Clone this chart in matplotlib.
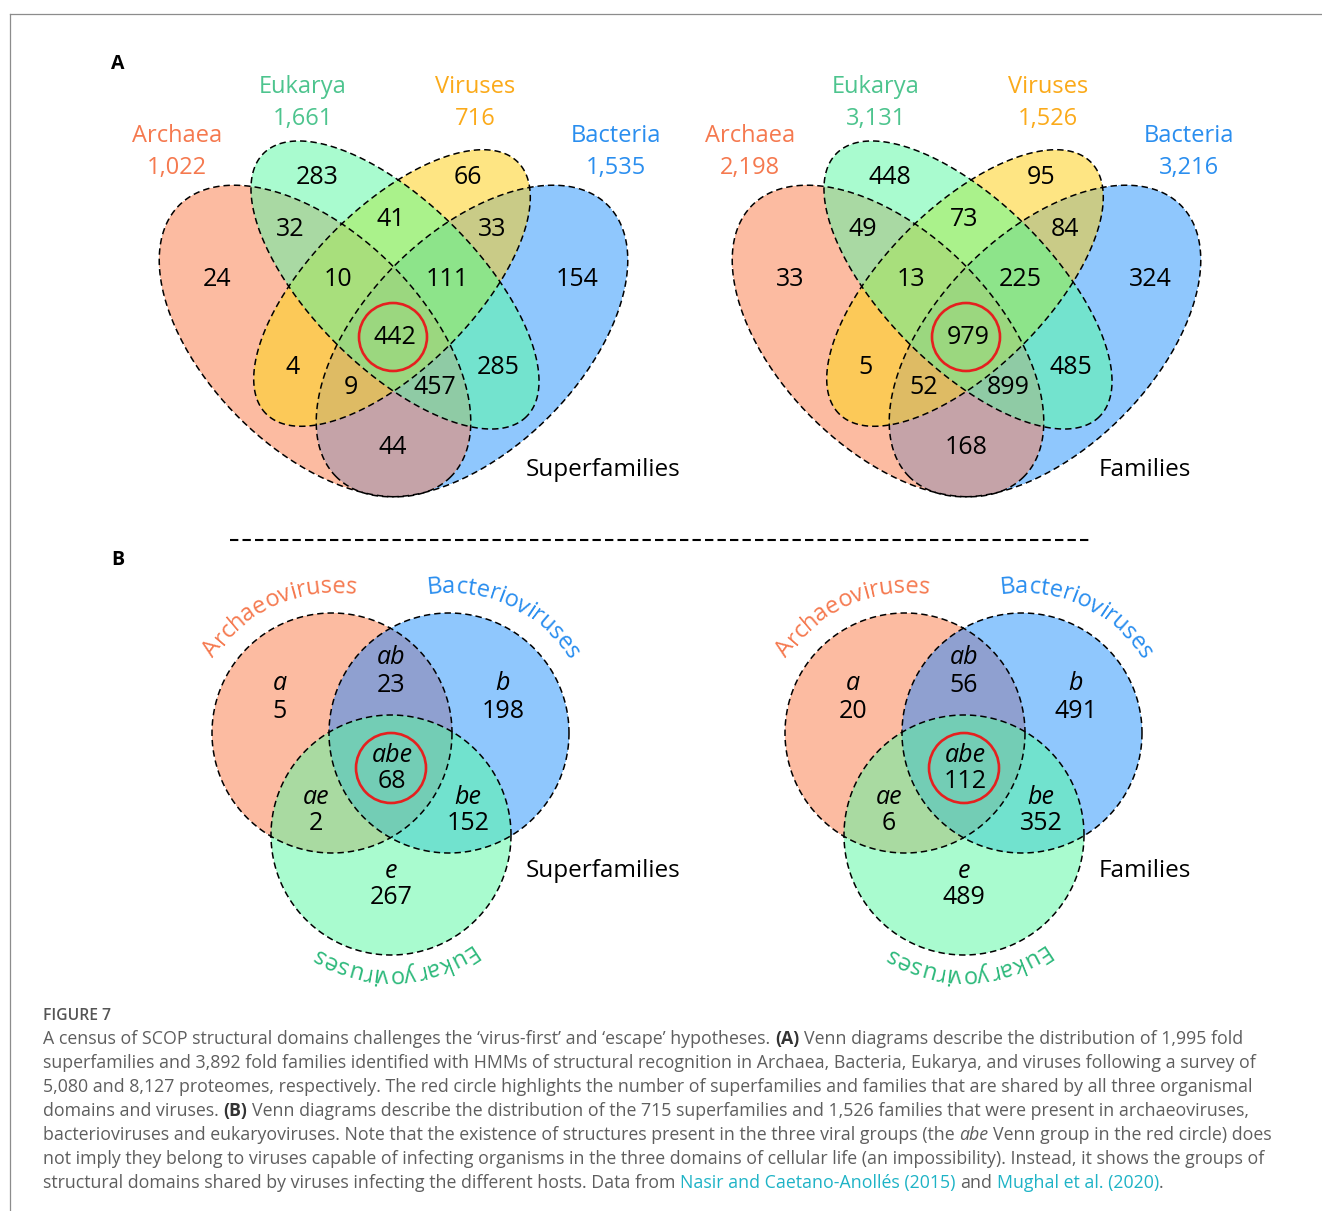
import numpy as np
import matplotlib
matplotlib.use("Agg")
import matplotlib.pyplot as plt
from matplotlib import font_manager, ft2font
from matplotlib.colors import to_rgba
from matplotlib.patches import Circle, Polygon
from matplotlib.path import Path

plt.rcParams["font.family"] = ["Open Sans", "DejaVu Sans"]

# --- data ------------------------------------------------------------------
DOMAIN_KEYS = ["A", "E", "V", "B"]
DOMAIN_NAMES = ["Archaea", "Eukarya", "Viruses", "Bacteria"]
REGIONS_4 = ["A", "E", "V", "B", "AE", "EV", "VB", "AV", "EB", "AB",
             "AEV", "EVB", "AVB", "AEB", "AEVB"]
SUPERFAMILY_COUNTS = [24, 283, 66, 154, 32, 41, 33, 4, 285, 44, 10, 111, 9, 457, 442]
FAMILY_COUNTS = [33, 448, 95, 324, 49, 73, 84, 5, 485, 168, 13, 225, 52, 899, 979]
SUPERFAMILY_TOTALS = [1022, 1661, 716, 1535]
FAMILY_TOTALS = [2198, 3131, 1526, 3216]

VIRUS_KEYS = ["a", "b", "e"]
VIRUS_NAMES = ["Archaeoviruses", "Bacterioviruses", "Eukaryoviruses"]
REGIONS_3 = ["a", "b", "e", "ab", "ae", "be", "abe"]
VIRUS_SF_COUNTS = [5, 198, 267, 23, 2, 152, 68]
VIRUS_FAM_COUNTS = [20, 491, 489, 56, 6, 352, 112]

PANEL_TITLES = ["Superfamilies", "Families"]

# --- layout (pixels, y down) ----------------------------------------------
W, H = 1322, 1211
A_CENTRES = [393, 966]
B_CENTRES = [391, 964]

# ellipse: dx from centre line, cy, semi-major, semi-minor, angle
ELLIPSES = {"A": (-78, 341, 192, 108, 45), "E": (2, 285, 186, 83, 45),
            "V": (-1, 288, 178, 81, 135), "B": (79, 341, 192, 108, 135)}
CIRCLES = {"a": (-59, 733), "b": (58, 733), "e": (0, 835)}
CIRCLE_R = 120

REGION_XY_4 = {"A": (-176, 280), "E": (-76, 177), "V": (75, 177), "B": (184, 280),
               "AE": (-103, 230), "EV": (-2, 219), "VB": (99, 230),
               "AV": (-100, 367), "EB": (105, 367), "AB": (0, 448),
               "AEV": (-55, 280), "EVB": (54, 280), "AVB": (-42, 388),
               "AEB": (42, 388), "AEVB": (2, 337)}
TITLE_XY_4 = {"A": (-216, 136), "E": (-90, 87), "V": (82, 87), "B": (223, 136)}
REGION_XY_3 = {"a": (-111, 684), "b": (112, 684), "e": (0, 871), "ab": (0, 658),
               "ae": (-75, 797), "be": (77, 797), "abe": (1, 755)}
ARC_LABELS = {"a": (114, 140), "b": (65, 140), "e": (271.5, 134)}

FILL_4 = {"A": "#FCBBA1", "E": "#A9FBCF", "V": "#FEE583", "B": "#8FC7FD",
          "AE": "#A9D9A3", "EV": "#AAF28B", "VB": "#C9CB87", "AV": "#FCC958",
          "EB": "#73E3CE", "AB": "#C5A3A8", "AEV": "#A8DF7C", "EVB": "#8DE48A",
          "AVB": "#DEBB64", "AEB": "#8FCBA5", "AEVB": "#9BD77F"}
FILL_3 = {"a": "#FCBBA1", "b": "#8FC7FD", "e": "#A9FBCF", "ab": "#8FA0D0",
          "ae": "#A9DAA1", "be": "#71E2CE", "abe": "#73CDB5"}
TITLE_COLORS = {"A": "#F5794F", "E": "#4DC48E", "V": "#FBAA1A", "B": "#2A8EEF",
                "a": "#F5794F", "b": "#2A8EEF", "e": "#2DB97B"}
RED = "#E5201F"
DASH = (0, (4.2, 2.6))

fig = plt.figure(figsize=(W / 100, H / 100), dpi=100)
ax = fig.add_axes([0, 0, 1, 1])
ax.axis("off")
renderer = fig.canvas.get_renderer()


def ellipse_xy(cx, cy, a, b, angle, n=500):
    t = np.linspace(0, 2 * np.pi, n, endpoint=False)
    th = np.deg2rad(angle)
    u, v = a * np.cos(t), b * np.sin(t)
    return np.column_stack([cx + u * np.cos(th) - v * np.sin(th),
                            cy + u * np.sin(th) + v * np.cos(th)])


def paint(outlines, keys, colors, box):
    x0, x1, y0, y1 = box
    gx, gy = np.meshgrid(np.arange(x0, x1) + 0.5, np.arange(y0, y1) + 0.5)
    pts = np.column_stack([gx.ravel(), gy.ravel()])
    code = np.zeros(gx.size, dtype=int)
    for i, xy in enumerate(outlines):
        code |= Path(xy).contains_points(pts).astype(int) << i
    lut = np.zeros((2 ** len(keys), 4))
    for c in range(1, 2 ** len(keys)):
        key = "".join(k for i, k in enumerate(keys) if c >> i & 1)
        lut[c] = to_rgba(colors[key])
    img = lut[code].reshape(gx.shape + (4,))
    ax.imshow(img, extent=(x0, x1, y1, y0), origin="upper",
              interpolation="nearest", zorder=1)


def text_width(s, **kw):
    t = ax.text(0, 0, s, **kw)
    w = t.get_window_extent(renderer).width
    t.remove()
    return w


def glyph_metrics(s, size):
    """Pen position, left bearing and ink width (pixels) of every character."""
    path = font_manager.findfont(font_manager.FontProperties(family="Open Sans"))
    font = ft2font.FT2Font(path, hinting_factor=1)
    font.set_size(size, 100)
    try:
        flags = ft2font.LoadFlags.NO_HINTING
        kern_mode = ft2font.Kerning.DEFAULT
    except AttributeError:
        flags = ft2font.LOAD_NO_HINTING
        kern_mode = ft2font.KERNING_DEFAULT
    out, pen, prev = [], 0.0, None
    for ch in s:
        idx = font.get_char_index(ord(ch))
        if prev is not None:
            pen += font.get_kerning(prev, idx, kern_mode) / 64
        g = font.load_char(ord(ch), flags=flags)
        out.append((pen, g.horiBearingX / 64, g.width / 64))
        pen += g.linearHoriAdvance / 65536
        prev = idx
    return out, pen


def arc_text(s, cx, cy, radius, mid_deg, color, size):
    metrics, total = glyph_metrics(s, size)
    r_mid = radius + 6  # spacing measured at half x-height
    start = np.deg2rad(mid_deg) + total / 2 / r_mid
    for ch, (pen, lsb, wid) in zip(s, metrics):
        phi = start - (pen + lsb + wid / 2) / r_mid
        ax.text(cx + radius * np.cos(phi), cy - radius * np.sin(phi), ch,
                fontsize=size, color=color, ha="center", va="baseline",
                rotation=np.rad2deg(phi) - 90, rotation_mode="anchor", zorder=5)


# --- panel A: four-set Venn ------------------------------------------------
for cx, counts, totals, title in zip(A_CENTRES, [SUPERFAMILY_COUNTS, FAMILY_COUNTS],
                                     [SUPERFAMILY_TOTALS, FAMILY_TOTALS], PANEL_TITLES):
    outlines = [ellipse_xy(cx + ELLIPSES[k][0], *ELLIPSES[k][1:]) for k in DOMAIN_KEYS]
    paint(outlines, DOMAIN_KEYS, FILL_4, (cx - 250, cx + 250, 120, 520))
    for xy in outlines:
        ax.add_patch(Polygon(xy, closed=True, fill=False, ec="black", lw=1.1,
                             ls=DASH, zorder=3))
    ax.add_patch(Circle((cx, 337), 34, fill=False, ec=RED, lw=1.9, zorder=4))
    for region, n in zip(REGIONS_4, counts):
        dx, y = REGION_XY_4[region]
        ax.text(cx + dx, y, f"{n:,}", fontsize=18, ha="center", va="center", zorder=5)
    for key, name, total in zip(DOMAIN_KEYS, DOMAIN_NAMES, totals):
        dx, y = TITLE_XY_4[key]
        ax.text(cx + dx, y, name, fontsize=17, color=TITLE_COLORS[key],
                ha="center", va="center")
        ax.text(cx + dx, y + 32, f"{total:,}", fontsize=17, color=TITLE_COLORS[key],
                ha="center", va="center")
    ax.text(cx + 133, 470, title, fontsize=17.5, ha="left", va="center")

# --- panel B: three-set Venn -----------------------------------------------
for cx, counts, title in zip(B_CENTRES, [VIRUS_SF_COUNTS, VIRUS_FAM_COUNTS], PANEL_TITLES):
    outlines = []
    for k in VIRUS_KEYS:
        t = np.linspace(0, 2 * np.pi, 400, endpoint=False)
        ccx, ccy = cx + CIRCLES[k][0], CIRCLES[k][1]
        outlines.append(np.column_stack([ccx + CIRCLE_R * np.cos(t), ccy + CIRCLE_R * np.sin(t)]))
    paint(outlines, VIRUS_KEYS, FILL_3, (cx - 200, cx + 200, 600, 970))
    for xy in outlines:
        ax.add_patch(Polygon(xy, closed=True, fill=False, ec="black", lw=1.1,
                             ls=DASH, zorder=3))
    ax.add_patch(Circle((cx, 768), 35, fill=False, ec=RED, lw=1.9, zorder=4))
    for region, n in zip(REGIONS_3, counts):
        dx, y = REGION_XY_3[region]
        ax.text(cx + dx, y, region, fontsize=18, style="italic", ha="center",
                va="center", zorder=5)
        ax.text(cx + dx, y + 27, f"{n:,}", fontsize=18, ha="center", va="center", zorder=5)
    for k, name in zip(VIRUS_KEYS, VIRUS_NAMES):
        mid, radius = ARC_LABELS[k]
        arc_text(name, cx + CIRCLES[k][0], CIRCLES[k][1], radius, mid, TITLE_COLORS[k], 17)
    ax.text(cx + 135, 871, title, fontsize=17.5, ha="left", va="center")

# --- panel letters, separator, frame ---------------------------------------
ax.text(118, 64, "A", fontsize=14, fontweight="bold", ha="center", va="center")
ax.text(118, 560, "B", fontsize=14, fontweight="bold", ha="center", va="center")
ax.plot([230, 1092], [540, 540], color="black", lw=1.5, ls=(0, (4, 2)))
ax.plot([10, W], [14, 14], color="#8C8C8C", lw=0.9)
ax.plot([10, 10], [14, H], color="#8C8C8C", lw=0.9)

# --- caption ----------------------------------------------------------------
GREY, DARK, LINK = "#5E5E5E", "#333333", "#1EB3C6"
CAPTION = [
    [("A census of SCOP structural domains challenges the \u2018virus-first\u2019 and \u2018escape\u2019 hypotheses. ", "n"),
     ("(A)", "b"), (" Venn diagrams describe the distribution of 1,995 fold", "n")],
    [("superfamilies and 3,892 fold families identified with HMMs of structural recognition in Archaea, Bacteria, Eukarya, and viruses following a survey of", "n")],
    [("5,080 and 8,127 proteomes, respectively. The red circle highlights the number of superfamilies and families that are shared by all three organismal", "n")],
    [("domains and viruses. ", "n"), ("(B)", "b"),
     (" Venn diagrams describe the distribution of the 715 superfamilies and 1,526 families that were present in archaeoviruses,", "n")],
    [("bacterioviruses and eukaryoviruses. Note that the existence of structures present in the three viral groups (the ", "n"),
     ("abe", "i"), (" Venn group in the red circle) does", "n")],
    [("not imply they belong to viruses capable of infecting organisms in the three domains of cellular life (an impossibility). Instead, it shows the groups of", "n")],
    [("structural domains shared by viruses infecting the different hosts. Data from ", "n"),
     ("Nasir and Caetano-Anoll\u00e9s (2015)", "l"), (" and ", "n"), ("Mughal et al. (2020)", "l"), (".", "n")],
]
STYLES = {"n": dict(color=GREY), "b": dict(color=DARK, fontweight="bold"),
          "i": dict(color=GREY, style="italic"), "l": dict(color=LINK)}

cap_size = 11.0
line1 = "".join(s for s, _ in CAPTION[0])
cap_size *= 1200 / text_width(line1, fontsize=cap_size)
space_w = text_width("a a", fontsize=cap_size) - text_width("aa", fontsize=cap_size)

ax.text(43, 1016, "FIGURE 7", fontsize=cap_size * 0.88, color="#555555",
        fontweight="semibold", ha="left", va="center")
for i, runs in enumerate(CAPTION):
    x, y = 43, 1039 + 24 * i
    for s, st in runs:
        core = s.strip(" ")
        x += (len(s) - len(s.lstrip(" "))) * space_w
        t = ax.text(x, y, core, fontsize=cap_size, ha="left", va="center", **STYLES[st])
        x += t.get_window_extent(renderer).width
        x += (len(s) - len(s.rstrip(" "))) * space_w

ax.set_aspect("auto")
ax.set_xlim(0, W)
ax.set_ylim(H, 0)
fig.savefig("out.png", dpi=100)
